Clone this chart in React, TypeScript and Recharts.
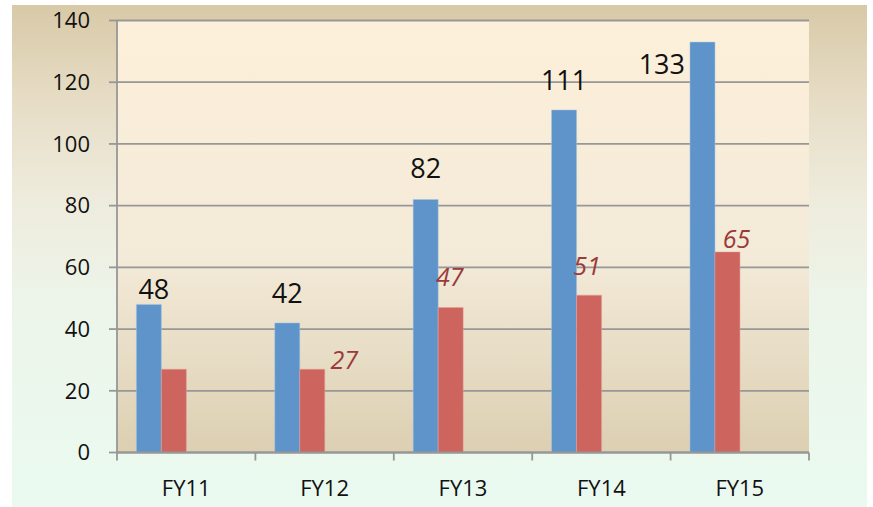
import React from 'react';
import { BarChart, Bar, XAxis, YAxis, CartesianGrid, LabelList } from 'recharts';

const years = ['FY11', 'FY12', 'FY13', 'FY14', 'FY15'];
const blueValues = [48, 42, 82, 111, 133];
const redValues = [27, 27, 47, 51, 65];
const yTicks = [0, 20, 40, 60, 80, 100, 120, 140];

// hand-placed label nudges (dx from bar centre, dy from bar top), like the original slide
const blueLabelNudge: [number, number][] = [[5, -5], [0, -20], [0, -21], [0, -20], [-40, 32]];
const redLabelNudge: ([number, number] | null)[] = [null, [32, 0], [-1, -21], [-2, -20], [9, -4]];

const chartData = years.map((year, i) => ({ year, blue: blueValues[i], red: redValues[i] }));

const FONT = '"Open Sans", "Noto Sans", sans-serif';
const GRID = '#979797';

const BlueLabel = (props: any) => {
  const { x, y, width, value, index } = props;
  const n = blueLabelNudge[index];
  if (!n) return null;
  const cx = Number(x) + Number(width) / 2 + n[0];
  const isLeft = n[0] < -20;
  return (
    <text
      x={isLeft ? Number(x) - 5 : cx}
      y={Number(y) + n[1]}
      textAnchor={isLeft ? 'end' : 'middle'}
      fontFamily={FONT}
      fontSize={27}
      fill="#111"
    >
      {value}
    </text>
  );
};

const RedLabel = (props: any) => {
  const { x, y, width, value, index } = props;
  const n = redLabelNudge[index];
  if (!n) return null;
  return (
    <text
      x={Number(x) + Number(width) / 2 + n[0]}
      y={Number(y) + n[1]}
      textAnchor="middle"
      fontFamily={FONT}
      fontStyle="italic"
      fontSize={25}
      fill="#9a3a3a"
    >
      {value}
    </text>
  );
};

const CategoryTick = (props: any) => {
  const { x, y, payload, index, width } = props;
  const half = payload.offset ?? width / (years.length * 2);
  const last = index === years.length - 1;
  return (
    <g>
      <line x1={x - half} x2={x - half} y1={y} y2={y + 8} stroke={GRID} strokeWidth={1.8} />
      {last && <line x1={x + half} x2={x + half} y1={y} y2={y + 8} stroke={GRID} strokeWidth={1.8} />}
      <text x={x} y={y + 43} textAnchor="middle" fontFamily={FONT} fontSize={22} fill="#111">
        {payload.value}
      </text>
    </g>
  );
};

export default function App() {
  return (
    <div style={{ position: 'absolute', left: 0, top: 0, width: 873, height: 507 }}>
      <div
        style={{
          position: 'absolute',
          left: 12,
          top: 5,
          width: 855,
          height: 502,
          background: 'linear-gradient(to bottom, #d8c9a7 0%, #e6dcc4 18%, #eeebdc 38%, #edf5ea 60%, #eafaf0 100%)',
        }}
      />
      <div style={{ position: 'absolute', left: 0, top: 0 }}>
        <BarChart
          width={873}
          height={507}
          data={chartData}
          margin={{ top: 20.5, right: 64, left: 0, bottom: 0 }}
          barCategoryGap="14%"
          barGap={0}
        >
          <defs>
            <linearGradient id="plotBg" x1="0" y1="0" x2="0" y2="1">
              <stop offset="0%" stopColor="#fdf0da" />
              <stop offset="55%" stopColor="#f3ead8" />
              <stop offset="100%" stopColor="#dccfb2" />
            </linearGradient>
          </defs>
          <CartesianGrid
            vertical={false}
            stroke={GRID}
            strokeWidth={1.8}
            fill="url(#plotBg)"
            fillOpacity={1}
          />
          <XAxis
            dataKey="year"
            height={54.5}
            axisLine={{ stroke: GRID, strokeWidth: 1.8 }}
            tickLine={false}
            tickSize={0}
            tickMargin={0}
            interval={0}
            tick={<CategoryTick />}
          />
          <YAxis
            width={117}
            domain={[0, 140]}
            ticks={yTicks}
            interval={0}
            axisLine={{ stroke: GRID, strokeWidth: 1.8 }}
            tickLine={{ stroke: GRID, strokeWidth: 1.8 }}
            tickSize={8}
            tickMargin={19}
            tick={{ fill: '#111', fontSize: 22, fontFamily: FONT }}
          />
          <Bar dataKey="blue" fill="#5e94c9" stroke="#a9c4e2" strokeWidth={0.5} isAnimationActive={false}>
            <LabelList dataKey="blue" content={<BlueLabel />} />
          </Bar>
          <Bar dataKey="red" fill="#cd645e" stroke="#e6a19c" strokeWidth={0.5} isAnimationActive={false}>
            <LabelList dataKey="red" content={<RedLabel />} />
          </Bar>
          {/* two empty series in the source workbook still hold their slots */}
          <Bar dataKey="spacerA" fill="none" isAnimationActive={false} />
          <Bar dataKey="spacerB" fill="none" isAnimationActive={false} />
        </BarChart>
      </div>
    </div>
  );
}
